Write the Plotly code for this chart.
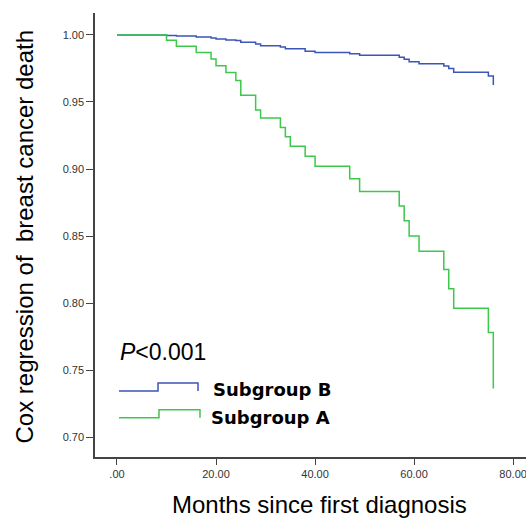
import plotly.graph_objects as go

# Data (step functions)
months_A = [0, 10, 12, 16, 19, 20, 22, 24, 25, 28, 29, 33, 34, 35, 38, 40, 47, 49,
            57, 58, 59, 61, 66, 67, 68, 75, 76]
surv_A = [1.000, 0.996, 0.9916, 0.987, 0.982, 0.977, 0.972, 0.966, 0.955, 0.944,
          0.938, 0.931, 0.924, 0.917, 0.9095, 0.902, 0.8928, 0.8833, 0.8724, 0.8614,
          0.850, 0.8386, 0.8251, 0.8107, 0.796, 0.778, 0.7363]

months_B = [0, 10, 12, 16, 19, 20, 22, 24, 25, 28, 29, 33, 34, 38, 40, 47, 49,
            57, 58, 59, 61, 66, 67, 68, 75, 76]
surv_B = [1.000, 0.9997, 0.9993, 0.9985, 0.9978, 0.997, 0.9963, 0.9958, 0.9945,
          0.9933, 0.992, 0.991, 0.9898, 0.9878, 0.987, 0.986, 0.9848, 0.9834, 0.9818,
          0.980, 0.9786, 0.9769, 0.9749, 0.9722, 0.9694, 0.9627]

x_tickvals = [0, 20, 40, 60, 80]
x_ticktext = [".00", "20.00", "40.00", "60.00", "80.00"]
y_tickvals = [0.70, 0.75, 0.80, 0.85, 0.90, 0.95, 1.00]

group_names = ["Subgroup B", "Subgroup A"]
x_title = "Months since first diagnosis"
y_title = "Cox regression of  breast cancer death"
BLUE = "#3b56b8"
GREEN = "#3cc84b"

fig = go.Figure()
fig.add_trace(go.Scatter(x=months_B, y=surv_B, mode="lines", line_shape="hv",
                         line=dict(color=BLUE, width=1.5), name=group_names[0],
                         showlegend=False))
fig.add_trace(go.Scatter(x=months_A, y=surv_A, mode="lines", line_shape="hv",
                         line=dict(color=GREEN, width=1.5), name=group_names[1],
                         showlegend=False))

# Custom legend glyphs (step-shaped) in paper coordinates
def step_glyph(x0, xm, x1, ylo, yhi, color):
    path = f"M {x0},{ylo} L {xm},{ylo} L {xm},{yhi} L {x1},{yhi} L {x1},{ylo}"
    fig.add_shape(type="path", path=path, xref="paper", yref="paper",
                  line=dict(color=color, width=1.5))

step_glyph(0.0557, 0.1462, 0.239, 0.1486, 0.1667, BLUE)
step_glyph(0.0557, 0.1485, 0.2436, 0.0885, 0.1065, GREEN)

legend_font = dict(family="DejaVu Sans", size=18, color="black")
fig.add_annotation(x=0.268, y=0.153, xref="paper", yref="paper", xanchor="left",
                   yanchor="middle", text=f"<b>{group_names[0]}</b>", showarrow=False,
                   font=legend_font)
fig.add_annotation(x=0.264, y=0.090, xref="paper", yref="paper", xanchor="left",
                   yanchor="middle", text=f"<b>{group_names[1]}</b>", showarrow=False,
                   font=legend_font)
fig.add_annotation(x=0.054, y=0.2365, xref="paper", yref="paper", xanchor="left",
                   yanchor="middle", text="<i>P</i>&lt;0.001", showarrow=False,
                   font=dict(family="Liberation Sans", size=23, color="black"))

# Axis titles
fig.add_annotation(x=0.521, y=-0.107, xref="paper", yref="paper", xanchor="center",
                   yanchor="middle", text=x_title, showarrow=False,
                   font=dict(family="Liberation Sans", size=24, color="black"))
fig.add_annotation(x=-0.1636, y=0.4977, xref="paper", yref="paper", xanchor="center",
                   yanchor="middle", text=y_title, textangle=-90, showarrow=False,
                   font=dict(family="Liberation Sans", size=24, color="black"))

axis_common = dict(showline=True, linecolor="#444444", linewidth=1.5, ticks="outside",
                   tickcolor="#444444", tickwidth=1.2, showgrid=False, zeroline=False,
                   automargin=False, ticklabeloverflow="allow",
                   tickfont=dict(family="Liberation Sans", size=11, color="#333333"))

fig.update_xaxes(range=[-4.44, 82.6], tickvals=x_tickvals, ticktext=x_ticktext,
                 ticklen=6, **axis_common)
fig.update_yaxes(range=[0.6851, 1.0164], tickvals=y_tickvals, tickformat=".2f",
                 ticklen=7, **axis_common)

fig.update_layout(width=526, height=519, margin=dict(l=95, r=0, t=13, b=62),
                  plot_bgcolor="white", paper_bgcolor="white", showlegend=False)

fig.write_html("out.html", config={"displayModeBar": False},
               post_script="document.body.style.margin='0';"
                           "document.body.style.overflow='hidden';")
